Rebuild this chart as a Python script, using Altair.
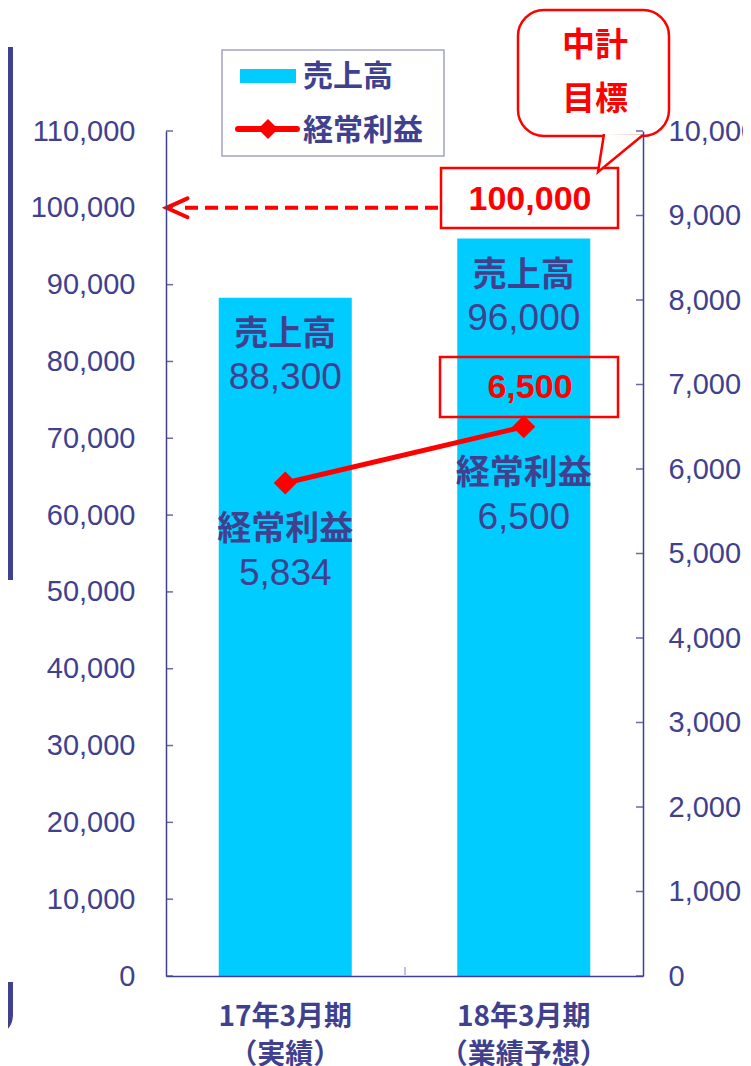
import altair as alt
import pandas as pd

# ---------------- data ----------------
periods = ["17年3月期\n（実績）", "18年3月期\n（業績予想）"]
series_names = ["売上高", "経常利益"]
sales = [88300, 96000]
profit = [5834, 6500]
left_ticks = list(range(0, 110001, 10000))
right_ticks = list(range(0, 10001, 1000))
target_sales = 100000
target_title = "中計\n目標"
forecast_profit = 6500

# ---------------- style ----------------
NAVY = "#3f418f"
CYAN = "#00ccff"
RED = "#ff0000"
NUM_FONT = "Liberation Sans"
JP_FONT = "Noto Sans CJK JP"
W, H = 477, 845

df = pd.DataFrame({
    "period": periods,
    "sales": sales,
    "profit": profit,
    "sales_txt": [f"{v:,}" for v in sales],
    "profit_txt": [f"{v:,}" for v in profit],
    "sales_name": [series_names[0]] * len(periods),
    "profit_name": [series_names[1]] * len(periods),
})
ann = pd.DataFrame({
    "target": [target_sales],
    "target_txt": [f"{target_sales:,}"],
    "fc_txt": [f"{forecast_profit:,}"],
    "title": [target_title],
    "s0": [series_names[0]],
    "s1": [series_names[1]],
})
lt = pd.DataFrame({"v": left_ticks})
rt = pd.DataFrame({"v": right_ticks})


def ls():
    return alt.Scale(domain=[0, 110000], nice=False)


def rs():
    return alt.Scale(domain=[0, 10000], nice=False)


x_axis = alt.Axis(title=None, labelAngle=0, labelExpr="split(datum.label, '\\n')",
                  ticks=False, tickSize=0, labelFont=JP_FONT, labelFontWeight="bold",
                  labelFontSize=28, labelColor=NAVY, labelLineHeight=38, labelPadding=27,
                  labelBaseline="top", domainColor=NAVY, domainWidth=1.5, zindex=1)
x_enc = alt.X("period:N", sort=periods,
              scale=alt.Scale(paddingInner=0.4423, paddingOuter=0.2212), axis=x_axis)

left_axis = alt.Axis(orient="left", values=left_ticks, format=",d", title=None, grid=False,
                     ticks=False, tickSize=0, labelFont=NUM_FONT, labelFontSize=29,
                     labelColor=NAVY, labelPadding=31, domainColor=NAVY, domainWidth=1.5,
                     labelOverlap=False, labelFlush=False, zindex=1)
right_axis = alt.Axis(orient="right", values=right_ticks, format=",d", title=None, grid=False,
                      ticks=False, tickSize=0, labelFont=NUM_FONT, labelFontSize=29,
                      labelColor=NAVY, labelPadding=25, domainColor=NAVY, domainWidth=1.5,
                      labelOverlap=False, labelFlush=False, zindex=1)

base = alt.Chart(df)
a = alt.Chart(ann)

# ---------------- bars (left scale) ----------------
bars = base.mark_bar(color=CYAN).encode(
    x=x_enc, y=alt.Y("sales:Q", scale=ls(), axis=left_axis))
sales_name = base.mark_text(font=JP_FONT, fontWeight="bold", fontSize=34, color=NAVY, dy=37).encode(
    x=x_enc, y=alt.Y("sales:Q", scale=ls(), axis=None), text="sales_name:N")
sales_val = base.mark_text(font=NUM_FONT, fontSize=37, color=NAVY, dy=80).encode(
    x=x_enc, y=alt.Y("sales:Q", scale=ls(), axis=None), text="sales_txt:N")

left_tick_marks = alt.Chart(lt).mark_rule(color="#6a6aa8", strokeWidth=1.5).encode(
    y=alt.Y("v:Q", scale=ls(), axis=None), x=alt.value(0), x2=alt.value(7))
mid_tick = a.mark_rule(color="#c0c0e0", strokeWidth=2).encode(
    x=alt.value(239), y=alt.value(836), y2=alt.value(844))

# legend
leg_box = a.mark_rect(fill="white", stroke="#a3a3c8", strokeWidth=1.5).encode(
    x=alt.value(56), x2=alt.value(278), y=alt.value(-81), y2=alt.value(25))
leg_bar = a.mark_rect(fill=CYAN).encode(
    x=alt.value(74), x2=alt.value(130), y=alt.value(-62), y2=alt.value(-48))
leg_t0 = a.mark_text(font=JP_FONT, fontWeight="bold", fontSize=30, color=NAVY, align="left").encode(
    x=alt.value(137), y=alt.value(-54), text="s0:N")
leg_line = a.mark_rule(color=RED, strokeWidth=6, strokeCap="round").encode(
    x=alt.value(72), x2=alt.value(131), y=alt.value(-2))
leg_pt = a.mark_point(shape="diamond", size=400, filled=True, color=RED, opacity=1).encode(
    x=alt.value(102), y=alt.value(-2))
leg_t1 = a.mark_text(font=JP_FONT, fontWeight="bold", fontSize=30, color=NAVY, align="left").encode(
    x=alt.value(137), y=alt.value(0), text="s1:N")

# target arrow and box
arrow_line = a.mark_rule(color=RED, strokeWidth=4, strokeDash=[13, 7]).encode(
    y=alt.Y("target:Q", scale=ls(), axis=None), x=alt.value(19), x2=alt.value(274))
arrow_head = a.mark_point(shape="M1,-0.9L-1,0L1,0.9", size=441, filled=False, stroke=RED,
                          strokeWidth=4, opacity=1, strokeCap="round").encode(
    y=alt.Y("target:Q", scale=ls(), axis=None), x=alt.value(11))
target_box = a.mark_rect(fill="white", stroke=RED, strokeWidth=2.5).encode(
    x=alt.value(275), x2=alt.value(452), y=alt.value(37), y2=alt.value(97))
target_txt = a.mark_text(font=NUM_FONT, fontWeight="bold", fontSize=34, color=RED).encode(
    x=alt.value(364), y=alt.value(69), text="target_txt:N")

# callout bubble
bubble = a.mark_rect(fill="white", stroke=RED, strokeWidth=2.5, cornerRadius=26).encode(
    x=alt.value(352), x2=alt.value(503), y=alt.value(-121), y2=alt.value(5))
tail = a.mark_point(shape="M-0.85,-0.95L-1.15,0.95L1.1,-0.9", size=1600, filled=True,
                    fill="white", stroke=RED, strokeWidth=2.5, opacity=1).encode(
    x=alt.value(455), y=alt.value(22))
bubble_txt = a.mark_text(font=JP_FONT, fontWeight="bold", fontSize=33, color=RED,
                         lineBreak="\n", lineHeight=54).encode(
    x=alt.value(429), y=alt.value(-85), text="title:N")

# forecast box
fc_box = a.mark_rect(fillOpacity=0, stroke=RED, strokeWidth=2.5).encode(
    x=alt.value(274), x2=alt.value(452), y=alt.value(226), y2=alt.value(286))
fc_txt = a.mark_text(font=NUM_FONT, fontWeight="bold", fontSize=34, color=RED).encode(
    x=alt.value(364), y=alt.value(257), text="fc_txt:N")

# slide fragments at left edge
deco_bar = a.mark_rect(fill=NAVY).encode(
    x=alt.value(-158), x2=alt.value(-153), y=alt.value(-84), y2=alt.value(449))
deco_j = a.mark_point(shape="M0,-1.3L0,0.3Q0,1.1,-0.8,1.2", size=1600, filled=False,
                      stroke=NAVY, strokeWidth=5, opacity=1).encode(
    x=alt.value(-155.5), y=alt.value(877))

# ---------------- profit (right scale) ----------------
line = base.mark_line(color=RED, strokeWidth=5).encode(
    x=x_enc, y=alt.Y("profit:Q", scale=rs(), axis=right_axis))
pts = base.mark_point(shape="diamond", size=530, filled=True, color=RED, opacity=1).encode(
    x=x_enc, y=alt.Y("profit:Q", scale=rs(), axis=None))
profit_name = base.mark_text(font=JP_FONT, fontWeight="bold", fontSize=34, color=NAVY, dy=47).encode(
    x=x_enc, y=alt.Y("profit:Q", scale=rs(), axis=None), text="profit_name:N")
profit_val = base.mark_text(font=NUM_FONT, fontSize=37, color=NAVY, dy=91).encode(
    x=x_enc, y=alt.Y("profit:Q", scale=rs(), axis=None), text="profit_txt:N")
right_tick_marks = alt.Chart(rt).mark_rule(color="#6a6aa8", strokeWidth=1.5).encode(
    y=alt.Y("v:Q", scale=rs(), axis=None), x=alt.value(470), x2=alt.value(477))

chart = alt.layer(
    bars, sales_name, sales_val, left_tick_marks, mid_tick,
    leg_box, leg_bar, leg_t0, leg_line, leg_pt, leg_t1,
    arrow_line, arrow_head, target_box, target_txt,
    bubble, tail, bubble_txt, fc_box, fc_txt, deco_bar, deco_j,
    profit_name, profit_val, line, pts, right_tick_marks,
).resolve_scale(y="independent").properties(
    width=W, height=H,
    autosize=alt.AutoSizeParams(type="none"),
    padding={"left": 158, "top": 123, "right": 100, "bottom": 90},
    background="white",
).configure_view(strokeWidth=0)

chart.save("out.html", embed_options={"renderer": "svg", "actions": False})
